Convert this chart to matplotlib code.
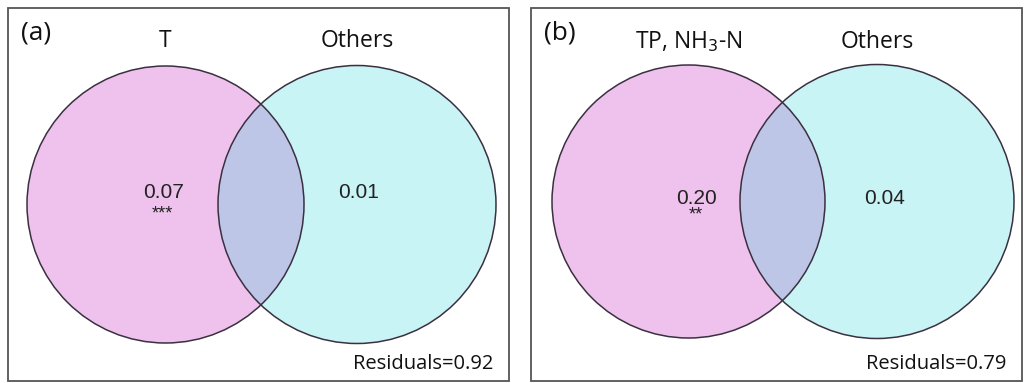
import matplotlib
matplotlib.use("Agg")
import matplotlib.pyplot as plt
from matplotlib.patches import Circle, Rectangle

# Variance partitioning results for the two panels
panel_tags = ["(a)", "(b)"]
set_names = [["T", "Others"], [r"TP, NH$_3$-N", "Others"]]
unique_fractions = [[0.07, 0.01], [0.20, 0.04]]
significance = [["***", ""], ["**", ""]]
residuals = [0.92, 0.79]

PINK = "#EEC2EC"
CYAN = "#C9F4F5"
BLEND = "#BEC6E8"
EDGE = "#3a3040"

W, H = 1024, 383
fig = plt.figure(figsize=(W / 100, H / 100), dpi=100)
ax = fig.add_axes([0, 0, 1, 1])
ax.set_xlim(0, W)
ax.set_ylim(H, 0)
ax.set_aspect("equal")
ax.axis("off")

# Panel layout (pixel units)
frames = [(8, 8, 501, 373), (531, 8, 491, 373)]
circles = [[(165.5, 204.5, 138.5), (357.0, 204.5, 139.0)],
           [(688.5, 201.5, 136.5), (877.0, 201.5, 137.0)]]
name_y = [41, 42]
value_y = [193, 199]
star_dy = [21, 16]
value_dx = [[-2, 2], [8, 8]]

title_font = "Open Sans"
num_font = "Liberation Sans"

for i in range(2):
    fx, fy, fw, fh = frames[i]
    ax.add_patch(Rectangle((fx, fy), fw, fh, fill=False, ec="#555555", lw=1.3))
    (x1, y1, r1), (x2, y2, r2) = circles[i]
    ax.add_patch(Circle((x1, y1), r1, fc=PINK, ec="none", zorder=1))
    ax.add_patch(Circle((x2, y2), r2, fc=CYAN, ec="none", zorder=1))
    # shared region of the two sets
    inter = Circle((x2, y2), r2, fc=BLEND, ec="none", zorder=2)
    ax.add_patch(inter)
    inter.set_clip_path(Circle((x1, y1), r1, transform=ax.transData))
    for (cx, cy, r) in circles[i]:
        ax.add_patch(Circle((cx, cy), r, fill=False, ec=EDGE, lw=1.1, zorder=3))

    ax.text(fx + 13, 33, panel_tags[i], fontsize=19, family=title_font,
            ha="left", va="center", color="#111111")
    for j in range(2):
        cx = circles[i][j][0]
        ax.text(cx, name_y[i], set_names[i][j], fontsize=16.5, family=title_font,
                ha="center", va="center", color="#111111")
    for j in range(2):
        cx = circles[i][j][0] + value_dx[i][j]
        ax.text(cx, value_y[i], f"{unique_fractions[i][j]:.2f}", fontsize=15,
                family=num_font, ha="center", va="center", color="#222222", zorder=4)
        if significance[i][j]:
            ax.text(cx - 1, value_y[i] + star_dy[i], significance[i][j], fontsize=13,
                    family=num_font, ha="center", va="center", color="#222222", zorder=4)
    ax.text(fx + fw - 16, 364, f"Residuals={residuals[i]:.2f}", fontsize=14.5,
            family=title_font, ha="right", va="center", color="#111111")

fig.savefig("out.png", dpi=100)
